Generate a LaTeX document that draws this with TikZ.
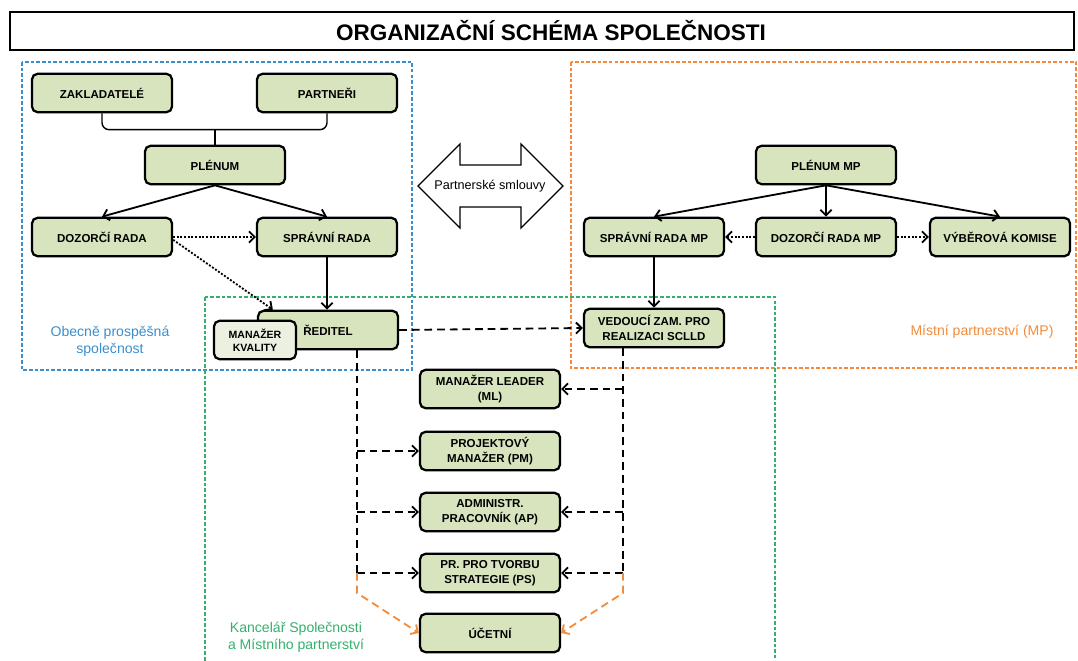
\documentclass[tikz,border=0pt]{standalone}
\usepackage{fontspec}
\setmainfont{Liberation Sans}
\usetikzlibrary{shapes}
\usetikzlibrary{arrows.meta}
\usetikzlibrary{calc,positioning}
\definecolor{boxgreen}{RGB}{215,228,189}
\definecolor{boxpale}{RGB}{236,240,224}
\definecolor{opsblue}{RGB}{58,142,205}
\definecolor{mporange}{RGB}{242,140,60}
\definecolor{kanzgreen}{RGB}{52,176,108}

\begin{document}
\begin{tikzpicture}[x=0.025cm, y=-0.025cm]
	\tikzstyle{unit}=[fill=boxgreen, draw, line width=1.6pt, rounded corners=4pt,
	minimum width=3.5cm, minimum height=0.96cm, align=center,
	font=\bfseries\fontsize{8.2}{10.8}\selectfont]
	\tikzstyle{region}=[line width=0.8pt, dash pattern=on 2.5pt off 1.5pt]
	\tikzstyle{link}=[line width=1.3pt, -{Straight Barb[length=4pt,width=8pt]}]
	\tikzstyle{hint}=[link, dash pattern=on 1.4pt off 1.2pt]
	\tikzstyle{duty}=[line width=1.3pt, dash pattern=on 5.5pt off 3.5pt]
	\tikzstyle{label}=[font=\fontsize{10}{12}\selectfont, align=center]
	\useasboundingbox (0,0) rectangle (1078,661);
	% title
	\draw[line width=1.3pt] (10,12) rectangle (1074,50);
	\node[font=\bfseries\fontsize{16}{18}\selectfont] (title) at (551,31) {ORGANIZAČNÍ SCHÉMA SPOLEČNOSTI};
	% regions
	\draw[region, opsblue] (22,62) rectangle (412,370);
	\draw[region, mporange] (571,62) rectangle (1076,368);
	\draw[region, kanzgreen] (205,297) rectangle (775,668);
	\node[label, text=opsblue] (opslabel) at (110,341) {Obecně prospěšná\\společnost};
	\node[label, text=mporange] (mplabel) at (982,332) {Místní partnerství (MP)};
	\node[label, text=kanzgreen] (kanzlabel) at (296,637) {Kancelář Společnosti\\a Místního partnerství};
	% partner contracts
	\node[font=\fontsize{9}{11}\selectfont] (pacts) at (490,186) {Partnerské smlouvy};
	\draw[line width=0.9pt] (418,186) -- (460,144) -- (460,165) -- (521,165) -- (521,144) -- (563,186)
	-- (521,228) -- (521,207) -- (460,207) -- (460,228) -- cycle;
	% company
	\node[unit] (zak) at (102,93) {ZAKLADATELÉ};
	\node[unit] (par) at (327,93) {PARTNEŘI};
	\node[unit] (plen) at (215,165) {PLÉNUM};
	\node[unit] (dozor) at (102,237) {DOZORČÍ RADA};
	\node[unit] (sprav) at (327,237) {SPRÁVNÍ RADA};
	\node[unit] (red) at (328,330) {ŘEDITEL};
	\node[unit, fill=boxpale, minimum width=2.05cm, font=\bfseries\fontsize{7.5}{9.5}\selectfont] (kval) at (255,340) {MANAŽER\\KVALITY};
	% local partnership
	\node[unit] (plenmp) at (826,165) {PLÉNUM MP};
	\node[unit] (spravmp) at (654,237) {SPRÁVNÍ RADA MP};
	\node[unit] (dozormp) at (826,237) {DOZORČÍ RADA MP};
	\node[unit] (komise) at (1000,237) {VÝBĚROVÁ KOMISE};
	\node[unit] (vedouci) at (654,328) {VEDOUCÍ ZAM. PRO\\REALIZACI SCLLD};
	% office
	\node[unit] (ml) at (490,389) {MANAŽER LEADER\\(ML)};
	\node[unit] (pm) at (490,451) {PROJEKTOVÝ\\MANAŽER (PM)};
	\node[unit] (ap) at (490,512) {ADMINISTR.\\PRACOVNÍK (AP)};
	\node[unit] (ps) at (490,573) {PR. PRO TVORBU\\STRATEGIE (PS)};
	\node[unit] (ucetni) at (490,633) {ÚČETNÍ};

	\draw[line width=1pt, rounded corners=5pt] (zak.south) |- ($(plen.north)+(0,-15)$) -| (par.south);
	\draw[line width=1pt] (plen.north) -- ++(0,-15);
	\draw[link] (plen.south) -- (dozor.north);
	\draw[link] (plen.south) -- (sprav.north);
	\draw[hint] (dozor.east) -- (sprav.west);
	\draw[hint] ([yshift=-2pt]dozor.east) -- ($(red.north west)+(16,0)$);
	\draw[link] (sprav.south) -- (sprav.south |- red.north);

	\draw[link] (plenmp.south) -- (spravmp.north);
	\draw[link] (plenmp.south) -- (dozormp.north);
	\draw[link] (plenmp.south) -- (komise.north);
	\draw[hint] (dozormp.west) -- (spravmp.east);
	\draw[hint] (dozormp.east) -- (komise.west);
	\draw[link] (spravmp.south) -- (spravmp.south |- vedouci.north);

	\draw[duty, -{Straight Barb[length=4pt,width=8pt]}] (red.east) -- (vedouci.west);
	% left trunk
	\draw[duty] ($(red.south)+(29,0)$) coordinate (lt) -- (lt |- ps.west) coordinate (lb);
	\foreach \n in {pm, ap, ps}
		\draw[duty, -{Straight Barb[length=4pt,width=8pt]}] (lt |- \n.west) -- (\n.west);
	% right trunk
	\draw[duty] ($(vedouci.south)+(-31,0)$) coordinate (rt) -- (rt |- ps.east) coordinate (rb);
	\foreach \n in {ml, ap, ps}
		\draw[duty, -{Straight Barb[length=4pt,width=8pt]}] (rt |- \n.east) -- (\n.east);
	\draw[duty, mporange, -{Straight Barb[length=4pt,width=8pt]}] (lb) -- ++(0,20) -- (ucetni.west);
	\draw[duty, mporange, -{Straight Barb[length=4pt,width=8pt]}] (rb) -- ++(0,20) -- (ucetni.east);
\end{tikzpicture}
\end{document}
